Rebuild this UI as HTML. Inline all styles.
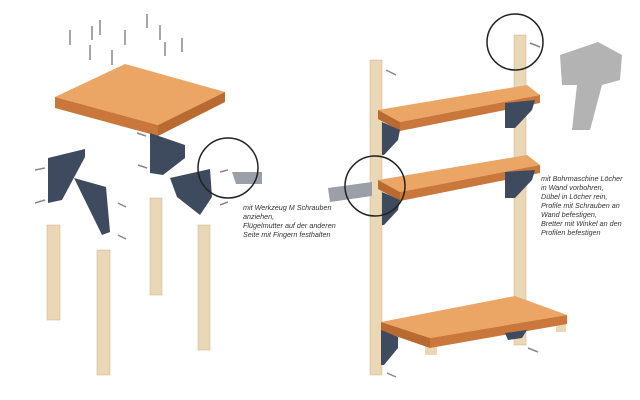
<!DOCTYPE html>
<html><head><style>
html,body{margin:0;padding:0;background:#fff;width:640px;height:400px;overflow:hidden}
.t{font-family:"Liberation Sans",sans-serif;font-style:italic;font-size:7.2px;fill:#333}
</style></head><body>
<svg width="640" height="400" viewBox="0 0 640 400" xmlns="http://www.w3.org/2000/svg">
<rect width="640" height="400" fill="#fff"/>
<g stroke="#888" stroke-width="1.5">
<line x1="70" y1="30" x2="70" y2="45"/><line x1="90" y1="45" x2="90" y2="60"/><line x1="100" y1="20" x2="100" y2="35"/>
<line x1="112" y1="50" x2="112" y2="65"/><line x1="125" y1="30" x2="125" y2="45"/><line x1="147" y1="14" x2="147" y2="28"/>
<line x1="160" y1="25" x2="160" y2="40"/><line x1="165" y1="42" x2="165" y2="56"/><line x1="182" y1="38" x2="182" y2="52"/>
<line x1="92" y1="26" x2="92" y2="40"/>
<line x1="35" y1="170" x2="45" y2="168"/><line x1="35" y1="203" x2="45" y2="200"/><line x1="118" y1="203" x2="126" y2="207"/>
<line x1="118" y1="235" x2="126" y2="239"/><line x1="137" y1="133" x2="146" y2="136"/><line x1="138" y1="165" x2="147" y2="168"/>
<line x1="220" y1="172" x2="228" y2="170"/><line x1="220" y1="205" x2="228" y2="202"/>
<line x1="386" y1="70" x2="396" y2="75"/><line x1="530" y1="43" x2="540" y2="47"/>
<line x1="387" y1="373" x2="396" y2="377"/><line x1="528" y1="348" x2="538" y2="352"/>
</g>
<polygon points="55,97 125,64 225,92 158,125" fill="#eba565"/>
<polygon points="55,97 158,125 158,136 55,108" fill="#c9773a"/>
<polygon points="158,125 225,92 225,102 158,136" fill="#b96a30"/>
<g fill="#ead7b5" stroke="#c9b08a" stroke-width="0.5">
<rect x="47" y="225" width="13" height="95"/>
<rect x="97" y="250" width="13" height="125"/>
<rect x="150" y="198" width="12" height="97"/>
<rect x="198" y="225" width="12" height="125"/>
</g>
<g fill="#3e4b5e">
<polygon points="48,158 85,149 85,157 62,200 48,203"/>
<polygon points="74,178 106,187 110,232 102,235"/>
<polygon points="150,133 185,145 185,158 163,175 150,173"/>
<polygon points="170,178 210,169 212,197 200,215 177,197"/>
</g>
<rect x="370" y="60" width="12" height="315" fill="#ead7b5" stroke="#c9b08a" stroke-width="0.5"/>
<rect x="514" y="35" width="12" height="310" fill="#ead7b5" stroke="#c9b08a" stroke-width="0.5"/>
<polygon points="378,110 527,85 540,95 400,122" fill="#eba565"/>
<polygon points="400,122 540,95 540,103 400,131" fill="#c9773a"/>
<polygon points="378,110 400,122 400,131 378,119" fill="#b96a30"/>
<polygon points="378,180 527,155 540,165 400,192" fill="#eba565"/>
<polygon points="400,192 540,165 540,173 400,201" fill="#c9773a"/>
<polygon points="378,180 400,192 400,201 378,189" fill="#b96a30"/>
<!-- shelf 3 -->
<rect x="425" y="340" width="12" height="15" fill="#ead7b5"/>
<rect x="556" y="320" width="10" height="12" fill="#ead7b5"/>
<polygon points="381,322 515,296 567,315 430,338" fill="#eba565"/>
<polygon points="430,338 567,315 567,324 430,348" fill="#c9773a"/>
<polygon points="381,322 430,338 430,348 381,331" fill="#b96a30"/>
<g fill="#3e4b5e">
<polygon points="382,122 400,130 398,140 384,155 382,155"/>
<polygon points="505,103 535,100 532,110 515,128 505,128"/>
<polygon points="382,192 400,200 398,210 384,225 382,225"/>
<polygon points="505,172 535,170 532,180 515,198 505,198"/>
<polygon points="381,330 398,337 398,348 384,365 381,365"/>
<polygon points="505,333 527,330 522,338 508,340"/>
</g>
<polygon points="232,172 262,172 262,184 236,184" fill="#9a9fa8"/>
<polygon points="328,188 372,182 372,196 330,202" fill="#9a9fa8"/>
<polygon points="560,55 598,42 622,55 620,80 602,85 590,130 572,130 577,85 562,85" fill="#b3b3b3"/>
<g fill="none" stroke="#222" stroke-width="1.5">
<circle cx="228" cy="168" r="30"/>
<circle cx="515" cy="42" r="28"/>
<circle cx="375" cy="186" r="30"/>
</g>
<text class="t" x="243" y="210">mit Werkzeug M Schrauben</text>
<text class="t" x="243" y="219">anziehen,</text>
<text class="t" x="243" y="228">Flügelmutter auf der anderen</text>
<text class="t" x="243" y="237">Seite mit Fingern festhalten</text>
<text class="t" x="541" y="181">mit Bohrmaschine Löcher</text>
<text class="t" x="541" y="190">in Wand vorbohren,</text>
<text class="t" x="541" y="199">Dübel in Löcher rein,</text>
<text class="t" x="541" y="208">Profile mit Schrauben an</text>
<text class="t" x="541" y="217">Wand befestigen,</text>
<text class="t" x="541" y="226">Bretter mit Winkel an den</text>
<text class="t" x="541" y="235">Profilen befestigen</text>
</svg>
</body></html>
